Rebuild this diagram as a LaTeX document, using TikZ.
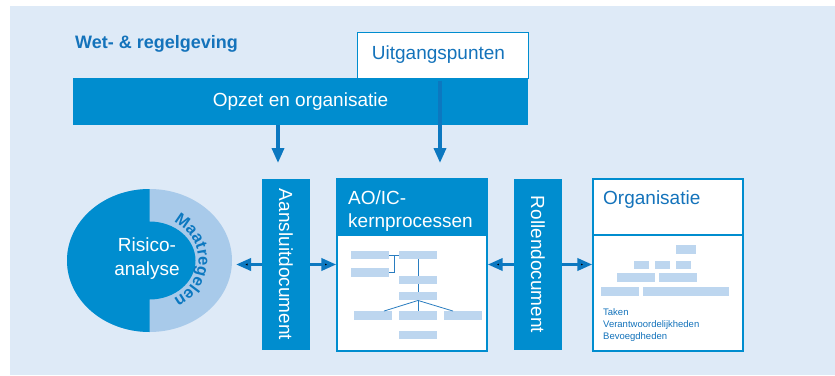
\documentclass[tikz,border=0pt]{standalone}
\usepackage{fontspec}
\setmainfont{Liberation Sans}
\usetikzlibrary{arrows.meta,decorations.text,calc}

\definecolor{bgblue}{HTML}{DEEAF7}
\definecolor{mainblue}{HTML}{008DCF}
\definecolor{arrowblue}{HTML}{0C78C0}
\definecolor{ringblue}{HTML}{A8CAEA}
\definecolor{phblue}{HTML}{BDD6EF}
\definecolor{textblue}{HTML}{1473BB}
\definecolor{lineblue}{HTML}{2A7DC0}

\tikzset{
  bigfont/.style={font=\fontsize{19}{23}\selectfont},
  docbar/.style={rectangle, fill=mainblue, inner sep=0pt, text=white, bigfont, rotate=-90,
                 minimum width=171pt, minimum height=48pt},
  bigarrow/.style={draw=arrowblue, line width=3.5pt, -{Triangle[length=15pt,width=12pt]}},
  ph/.style={rectangle, fill=phblue, inner sep=0pt, minimum height=8.5pt},
  conn/.style={draw=lineblue, line width=0.8pt},
  framebox/.style={rectangle, draw=mainblue, line width=1.3pt, fill=white, inner sep=0pt},
}

\begin{document}
\begin{tikzpicture}[x=1pt,y=-1pt]
\useasboundingbox (0,0) rectangle (835,375);

% background panel
\fill[bgblue] (10,6) rectangle (835,375);

% title
\node[anchor=base west, inner sep=0pt, text=textblue, font=\bfseries\fontsize{18}{20}\selectfont]
  (wet) at (75,48) {Wet- \& regelgeving};

% top boxes
\node[framebox, line width=1pt, minimum width=171pt, minimum height=46pt, text=textblue, bigfont]
  (uitg) at (442.5,55) {\hspace*{-8pt}Uitgangspunten};
\node[rectangle, fill=mainblue, inner sep=0pt, minimum width=455pt, minimum height=47pt,
      text=white, bigfont] (opzet) at (300.5,101.5) {Opzet en organisatie};

% vertical arrows
\coordinate (a1e) at (278,163);
\coordinate (a2e) at (440,163);
\draw[bigarrow] (opzet.south -| a1e) -- (a1e);
\draw[bigarrow] ([yshift=-2pt]uitg.south -| a2e) -- (a2e);

% risk analysis ellipse
\coordinate (rc) at (149.5,260.5);
\fill[ringblue] (rc) ellipse [x radius=82.5, y radius=71.5];
\fill[mainblue] ($(rc)+(0,-71.5)$)
  arc[start angle=-90, end angle=-270, x radius=82.5, y radius=71.5]
  -- ($(rc)+(0,39)$)
  arc[start angle=90, end angle=-90, x radius=46, y radius=39] -- cycle;
\node[anchor=north, inner sep=0pt, align=center, text=white,
      font=\fontsize{19}{24}\selectfont] (risk) at (147,237.4) {Risico-\\analyse};
\path[decorate, decoration={text along path, text align=center,
      text color=arrowblue, text={|\bfseries\fontsize{16.5}{17}\selectfont|Maatregelen}}]
  ($(rc)+(0,-44)$) arc[start angle=-90, end angle=90, x radius=49, y radius=44];
\coordinate (riske) at (236,264.5);

% document bars
\node[docbar] (aansl) at (286,264.5) {Aansluitdocument};
\node[docbar] (rollen) at (538,264.5) {Rollendocument};

% AO/IC box
\node[framebox, minimum width=150pt, minimum height=172pt] (aoic) at (412,265) {};
\node[rectangle, fill=mainblue, draw=mainblue, line width=1.3pt, anchor=north,
      minimum width=150pt, minimum height=56pt, inner sep=0pt] (aoichead) at (aoic.north) {};
\node[anchor=north west, inner sep=0pt, align=left, text=white,
      font=\fontsize{19}{23}\selectfont] (aoictext) at (348,190.4) {AO/IC-\\kernprocessen};

% process chart inside AO/IC
\node[ph, minimum width=38pt] (pa) at (370,255) {};
\node[ph, minimum width=38pt] (pb) at (370,272.5) {};
\node[ph, minimum width=38pt] (pc) at (418,255) {};
\node[ph, minimum width=38pt] (pd) at (418,280) {};
\node[ph, minimum width=38pt] (pe) at (418,296) {};
\node[ph, minimum width=38pt] (pf) at (373,315.5) {};
\node[ph, minimum width=38pt] (pg) at (418,315.5) {};
\node[ph, minimum width=38pt] (ph) at (463,315.5) {};
\node[ph, minimum width=38pt] (pi) at (418,335) {};
\coordinate (jab) at ($(pa.east)!0.5!(pc.west)$);
\draw[conn] (pa.east) -- (pc.west);
\draw[conn] (pb.east) -| (jab);
\draw[conn] (pc.south) -- (pd.north);
\draw[conn] (pd.south) -- (pe.north);
\draw[conn] (pe.south) -- (pg.north);
\draw[conn] (pe.south) -- ([xshift=11pt]pf.north);
\draw[conn] (pe.south) -- ([xshift=-10pt]ph.north);

% Organisatie box
\node[framebox, minimum width=150pt, minimum height=172pt] (org) at (668,265) {};
\node[rectangle, draw=mainblue, line width=1.3pt, anchor=north,
      minimum width=150pt, minimum height=56pt, inner sep=0pt] (orghead) at (org.north) {};
\node[anchor=base west, inner sep=0pt, text=textblue, bigfont] (orgtext) at (603,204) {Organisatie};

% organisation chart blocks
\node[ph, minimum width=20pt, minimum height=9pt] (o1) at (686,249.5) {};
\node[ph, minimum width=15pt] (o2a) at (641.5,265) {};
\node[ph, minimum width=15pt] (o2b) at (662.5,265) {};
\node[ph, minimum width=15pt] (o2c) at (683.5,265) {};
\node[ph, minimum width=38pt, minimum height=9pt] (o3a) at (636,277.5) {};
\node[ph, minimum width=38pt, minimum height=9pt] (o3b) at (678,277.5) {};
\node[ph, minimum width=38pt, minimum height=9pt] (o4a) at (620,291.5) {};
\node[ph, minimum width=86pt, minimum height=9pt] (o4b) at (686,291.5) {};
\node[anchor=north west, inner sep=0pt, align=left, text=textblue,
      font=\fontsize{9.5}{12}\selectfont] (orglist) at (603,308.7)
  {Taken\\Verantwoordelijkheden\\Bevoegdheden};

% horizontal arrows
\draw[bigarrow] (aansl.south) -- (riske);
\draw[bigarrow] (aansl.north) -- (aoic.west |- aansl.north);
\draw[bigarrow] (rollen.south) -- (aoic.east |- rollen.south);
\draw[bigarrow] (rollen.north) -- (org.west |- rollen.north);
\end{tikzpicture}
\end{document}
